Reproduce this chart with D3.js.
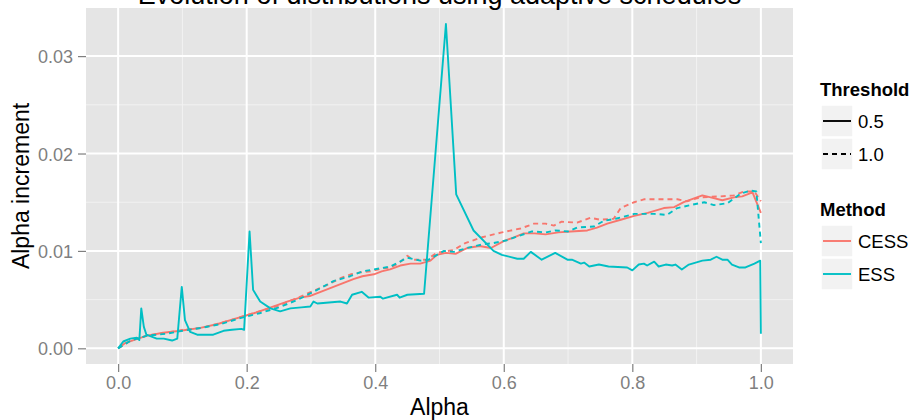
<!DOCTYPE html>
<html>
<head>
<meta charset="utf-8">
<script src="https://cdn.jsdelivr.net/npm/d3@7"></script>
<style>
  body { margin: 0; background: #fff; }
  svg { font-family: "Liberation Sans", Arial, sans-serif; }
</style>
</head>
<body>
<div id="chart"></div>
<script>
// [alpha, alpha increment]
const cess05 = [[0,0],[0.01,0.0005],[0.024,0.00085],[0.045,0.0013],[0.07,0.0016],[0.097,0.0018],[0.128,0.0021],[0.155,0.0025],[0.18,0.0030],[0.211,0.0036],[0.242,0.0043],[0.263,0.0048],[0.283,0.0052],[0.3,0.0054],[0.315,0.0058],[0.335,0.0063],[0.35,0.0067],[0.366,0.0071],[0.38,0.0074],[0.398,0.0076],[0.41,0.0079],[0.423,0.0081],[0.439,0.0085],[0.455,0.0087],[0.47,0.0087],[0.486,0.0090],[0.496,0.0096],[0.51,0.0098],[0.525,0.0097],[0.543,0.0103],[0.562,0.0105],[0.58,0.0103],[0.6,0.0110],[0.616,0.0114],[0.631,0.0118],[0.648,0.0118],[0.665,0.0117],[0.685,0.0119],[0.704,0.0120],[0.73,0.0121],[0.745,0.0124],[0.761,0.0128],[0.782,0.0132],[0.803,0.0136],[0.824,0.0139],[0.849,0.0144],[0.865,0.0145],[0.88,0.0150],[0.909,0.0157],[0.922,0.0155],[0.94,0.0152],[0.958,0.0155],[0.971,0.0156],[0.987,0.0160],[1.0,0.0139]];

const cess10 = [[0,0],[0.02,0.0008],[0.045,0.0013],[0.075,0.0016],[0.1,0.0019],[0.13,0.0021],[0.16,0.0026],[0.19,0.0032],[0.22,0.0038],[0.25,0.0044],[0.28,0.0052],[0.304,0.0059],[0.325,0.0065],[0.346,0.0072],[0.362,0.0076],[0.377,0.0078],[0.393,0.0079],[0.41,0.0082],[0.424,0.0083],[0.438,0.0088],[0.45,0.0095],[0.458,0.0091],[0.48,0.0091],[0.496,0.0098],[0.522,0.0101],[0.54,0.0108],[0.566,0.0114],[0.597,0.0119],[0.626,0.0123],[0.647,0.0128],[0.665,0.0128],[0.678,0.0126],[0.69,0.0130],[0.714,0.0129],[0.735,0.0134],[0.75,0.0132],[0.771,0.0133],[0.782,0.0144],[0.803,0.0150],[0.818,0.0153],[0.849,0.0153],[0.87,0.0153],[0.885,0.0151],[0.906,0.0155],[0.937,0.0156],[0.958,0.0157],[0.974,0.0161],[0.99,0.0161],[1.0,0.0151]];

const ess05 = [[0,0],[0.008,0.0007],[0.019,0.0010],[0.029,0.0011],[0.033,0.00085],[0.036,0.0041],[0.04,0.0022],[0.044,0.0014],[0.06,0.0010],[0.071,0.0010],[0.084,0.0008],[0.092,0.0010],[0.099,0.0063],[0.104,0.0029],[0.112,0.0017],[0.123,0.0014],[0.148,0.0014],[0.164,0.0018],[0.177,0.0019],[0.192,0.0020],[0.196,0.0019],[0.2045,0.0120],[0.21,0.0060],[0.221,0.0048],[0.237,0.0041],[0.252,0.0038],[0.268,0.0041],[0.285,0.0042],[0.299,0.0043],[0.304,0.0048],[0.31,0.0046],[0.346,0.0048],[0.356,0.0046],[0.364,0.0055],[0.379,0.0058],[0.39,0.0052],[0.408,0.0053],[0.412,0.0051],[0.434,0.0055],[0.438,0.0052],[0.45,0.0055],[0.476,0.0056],[0.510,0.0333],[0.526,0.0158],[0.553,0.0121],[0.584,0.0100],[0.597,0.0096],[0.621,0.0092],[0.631,0.0092],[0.642,0.0099],[0.659,0.0091],[0.68,0.0098],[0.699,0.0091],[0.706,0.0091],[0.72,0.0087],[0.725,0.0088],[0.733,0.0084],[0.748,0.0086],[0.763,0.0084],[0.792,0.0083],[0.8,0.0080],[0.81,0.0086],[0.818,0.0087],[0.823,0.0085],[0.834,0.0089],[0.841,0.0084],[0.852,0.0086],[0.862,0.0085],[0.867,0.0086],[0.877,0.0081],[0.888,0.0086],[0.909,0.0090],[0.922,0.0091],[0.931,0.0094],[0.94,0.0091],[0.948,0.0091],[0.955,0.0086],[0.966,0.0083],[0.976,0.0083],[0.99,0.0087],[0.999,0.0090],[1.0,0.0015]];

const ess10 = [[0,0],[0.02,0.0008],[0.045,0.0013],[0.075,0.0015],[0.1,0.0018],[0.13,0.0021],[0.16,0.0025],[0.19,0.0031],[0.22,0.0036],[0.25,0.0042],[0.28,0.0050],[0.304,0.0058],[0.335,0.0069],[0.361,0.0074],[0.38,0.0079],[0.398,0.0081],[0.424,0.0084],[0.45,0.0093],[0.47,0.0090],[0.483,0.0091],[0.507,0.0100],[0.522,0.0099],[0.543,0.0103],[0.569,0.0107],[0.584,0.0108],[0.605,0.0111],[0.626,0.0116],[0.644,0.0120],[0.665,0.0119],[0.68,0.0121],[0.7,0.0120],[0.714,0.0124],[0.74,0.0125],[0.756,0.0131],[0.774,0.0133],[0.803,0.0138],[0.834,0.0138],[0.854,0.0137],[0.87,0.0144],[0.89,0.0147],[0.912,0.0150],[0.927,0.0147],[0.948,0.0149],[0.969,0.0159],[0.984,0.0162],[0.993,0.0161],[1.0,0.0108]];

const methods = ["CESS", "ESS"];
const thresholds = ["0.5", "1.0"];
const xTicks = [0, 0.2, 0.4, 0.6, 0.8, 1.0];
const xMinor = [0.1, 0.3, 0.5, 0.7, 0.9];
const yTicks = [0, 0.01, 0.02, 0.03];
const yMinor = [0.005, 0.015, 0.025];

const series = [
    {method: "CESS", threshold: "0.5", values: cess05},
    {method: "CESS", threshold: "1.0", values: cess10},
    {method: "ESS", threshold: "0.5", values: ess05},
    {method: "ESS", threshold: "1.0", values: ess10}
];

var width = 915, height = 420;
var panel = {left: 86, right: 793, top: 8, bottom: 364};

var color = d3.scaleOrdinal().domain(methods).range(["#F8766D", "#00BFC4"]);
var dash = d3.scaleOrdinal().domain(thresholds).range([null, "5,4"]);

var x = d3.scaleLinear().domain([-0.05, 1.05]).range([panel.left, panel.right]);
var y = d3.scaleLinear().domain([-0.00161, 0.03494]).range([panel.bottom, panel.top]);

var svg = d3.select("#chart").append("svg")
    .attr("width", width)
    .attr("height", height);

// panel background + grid
svg.append("rect")
    .attr("x", panel.left).attr("y", panel.top)
    .attr("width", panel.right - panel.left)
    .attr("height", panel.bottom - panel.top)
    .attr("fill", "#E5E5E5");

svg.append("g").selectAll("line").data(xMinor).enter().append("line")
    .attr("x1", d => x(d)).attr("x2", d => x(d))
    .attr("y1", panel.top).attr("y2", panel.bottom)
    .attr("stroke", "#F2F2F2").attr("stroke-width", 1);
svg.append("g").selectAll("line").data(yMinor).enter().append("line")
    .attr("y1", d => y(d)).attr("y2", d => y(d))
    .attr("x1", panel.left).attr("x2", panel.right)
    .attr("stroke", "#F2F2F2").attr("stroke-width", 1);
svg.append("g").selectAll("line").data(xTicks).enter().append("line")
    .attr("x1", d => x(d)).attr("x2", d => x(d))
    .attr("y1", panel.top).attr("y2", panel.bottom)
    .attr("stroke", "#fff").attr("stroke-width", 2);
svg.append("g").selectAll("line").data(yTicks).enter().append("line")
    .attr("y1", d => y(d)).attr("y2", d => y(d))
    .attr("x1", panel.left).attr("x2", panel.right)
    .attr("stroke", "#fff").attr("stroke-width", 2);

// lines
var line = d3.line().x(d => x(d[0])).y(d => y(d[1]));
svg.append("g").selectAll("path").data(series).enter().append("path")
    .attr("d", d => line(d.values))
    .attr("fill", "none")
    .attr("stroke", d => color(d.method))
    .attr("stroke-width", 1.9)
    .attr("stroke-dasharray", d => dash(d.threshold))
    .attr("stroke-linejoin", "round");

// axes
var xAxis = svg.append("g")
    .attr("transform", `translate(0,${panel.bottom})`)
    .call(d3.axisBottom(x).tickValues(xTicks).tickFormat(d3.format(".1f")).tickSize(8).tickPadding(4));
var yAxis = svg.append("g")
    .attr("transform", `translate(${panel.left},0)`)
    .call(d3.axisLeft(y).tickValues(yTicks).tickFormat(d3.format(".2f")).tickSize(8).tickPadding(5));

[xAxis, yAxis].forEach(a => {
    a.select(".domain").remove();
    a.selectAll(".tick line").attr("stroke", "#7F7F7F").attr("stroke-width", 1.2);
    a.selectAll(".tick text")
        .attr("fill", "#7F7F7F")
        .style("font-size", "18px")
        .style("font-family", "Liberation Sans, Arial, sans-serif");
});
yAxis.selectAll(".tick text").attr("dy", "0.36em");

// titles
svg.append("text")
    .attr("x", (panel.left + panel.right) / 2).attr("y", 4)
    .attr("text-anchor", "middle")
    .style("font-size", "27px")
    .text("Evolution of distributions using adaptive schedules");

svg.append("text")
    .attr("x", (panel.left + panel.right) / 2).attr("y", 415)
    .attr("text-anchor", "middle")
    .style("font-size", "23px")
    .text("Alpha");

svg.append("text")
    .attr("transform", `translate(29,${(panel.top + panel.bottom) / 2}) rotate(-90)`)
    .attr("text-anchor", "middle")
    .style("font-size", "23px")
    .text("Alpha increment");

// legends
function legend(top, title, keys, styleFn) {
    var g = svg.append("g").attr("transform", `translate(820,${top})`);
    g.append("text")
        .attr("x", 0).attr("y", 0)
        .style("font-size", "18.5px").style("font-weight", "bold")
        .text(title);
    var rows = g.selectAll("g.key").data(keys).enter().append("g")
        .attr("class", "key")
        .attr("transform", (d, i) => `translate(0,${9 + i * 33})`);
    rows.append("rect")
        .attr("x", 1).attr("y", 0).attr("width", 32).attr("height", 32)
        .attr("fill", "#F2F2F2").attr("stroke", "#fff").attr("stroke-width", 1.5);
    rows.append("line")
        .attr("x1", 3).attr("x2", 31).attr("y1", 16).attr("y2", 16)
        .each(function(d) { styleFn(d3.select(this), d); });
    rows.append("text")
        .attr("x", 38).attr("y", 16).attr("dy", "0.36em")
        .style("font-size", "18.5px")
        .text(d => d);
}

legend(96, "Threshold", thresholds, (sel, d) => sel
    .attr("stroke", "#000").attr("stroke-width", 1.9)
    .attr("stroke-dasharray", dash(d)));
legend(216, "Method", methods, (sel, d) => sel
    .attr("stroke", color(d)).attr("stroke-width", 1.9));
</script>
</body>
</html>
